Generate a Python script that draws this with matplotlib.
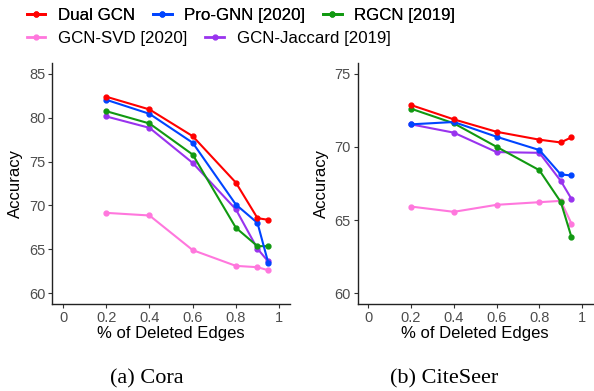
import matplotlib.pyplot as plt
from matplotlib.lines import Line2D

plt.rcParams['font.family'] = ['Liberation Sans', 'DejaVu Sans']

edges = [0.2, 0.4, 0.6, 0.8, 0.9, 0.95]
methods = ['Dual GCN', 'Pro-GNN [2020]', 'RGCN [2019]', 'GCN-SVD [2020]', 'GCN-Jaccard [2019]']
colors = ['#FF0000', '#0044FF', '#119911', '#FF77DD', '#9933EE']

cora = {
    'Dual GCN': [82.4, 80.95, 77.9, 72.6, 68.55, 68.35],
    'Pro-GNN [2020]': [82.05, 80.45, 77.15, 70.1, 68.0, 63.45],
    'RGCN [2019]': [80.75, 79.35, 75.8, 67.45, 65.35, 65.35],
    'GCN-SVD [2020]': [69.15, 68.85, 64.9, 63.1, 62.95, 62.6],
    'GCN-Jaccard [2019]': [80.15, 78.85, 74.85, 69.55, 65.05, 63.6],
}
citeseer = {
    'Dual GCN': [72.87, 71.89, 71.04, 70.5, 70.31, 70.66],
    'Pro-GNN [2020]': [71.55, 71.71, 70.7, 69.79, 68.12, 68.05],
    'RGCN [2019]': [72.62, 71.62, 70.01, 68.41, 66.24, 63.84],
    'GCN-SVD [2020]': [65.92, 65.56, 66.04, 66.22, 66.31, 64.76],
    'GCN-Jaccard [2019]': [71.55, 70.98, 69.65, 69.6, 67.68, 66.45],
}
xticks = [0, 0.2, 0.4, 0.6, 0.8, 1]
xtick_labels = ['0', '0.2', '0.4', '0.6', '0.8', '1']

fig = plt.figure(figsize=(5.94, 3.91), dpi=100)
ax1 = fig.add_axes([0.088, 0.2225, 0.400, 0.6164])
ax2 = fig.add_axes([0.602, 0.2225, 0.396, 0.6164])

draw_order = ['GCN-SVD [2020]', 'GCN-Jaccard [2019]', 'RGCN [2019]', 'Pro-GNN [2020]', 'Dual GCN']

for ax, data, yr, yt, cap, cx in [(ax1, cora, (60, 85), [60, 65, 70, 75, 80, 85], '(a) Cora', 0.40),
                                  (ax2, citeseer, (60, 75), [60, 65, 70, 75], '(b) CiteSeer', 0.37)]:
    for m in draw_order:
        c = colors[methods.index(m)]
        ax.plot(edges, data[m], color=c, lw=1.5, marker='o', ms=3.5)
    pad = (yr[1] - yr[0]) * 0.05
    ax.set_ylim(yr[0] - pad, yr[1] + pad)
    ax.set_xlim(-0.05, 1.05)
    ax.set_yticks(yt)
    ax.set_xticks(xticks)
    ax.set_xticklabels(xtick_labels)
    ax.tick_params(labelsize=10.5, labelcolor='#4D4D4D', color='#333333', length=3, width=0.8, pad=2)
    for s in ['top', 'right']:
        ax.spines[s].set_visible(False)
    for s in ['left', 'bottom']:
        ax.spines[s].set_linewidth(1.0)
        ax.spines[s].set_color('#222222')
    ax.set_ylabel('Accuracy', fontsize=12, labelpad=4)
    ax.set_xlabel('% of Deleted Edges', fontsize=12, labelpad=1)
    ax.text(cx, -0.31, cap, transform=ax.transAxes, ha='center', va='center',
            fontsize=16, family=['Liberation Serif', 'DejaVu Serif'])

handles = [Line2D([], [], color=c, lw=2, marker='o', ms=3.5) for c in colors]
leg_kw = dict(frameon=False, fontsize=12.2, handlelength=1.1, handletextpad=0.75,
              columnspacing=1.05, borderpad=0, borderaxespad=0)
leg1 = fig.legend(handles[:3], methods[:3], loc='center left', bbox_to_anchor=(0.045, 0.961),
                  ncol=3, **leg_kw)
fig.add_artist(leg1)
fig.legend(handles[3:], methods[3:], loc='center left', bbox_to_anchor=(0.045, 0.902),
           ncol=2, **leg_kw)

fig.savefig('out.png', dpi=100)
